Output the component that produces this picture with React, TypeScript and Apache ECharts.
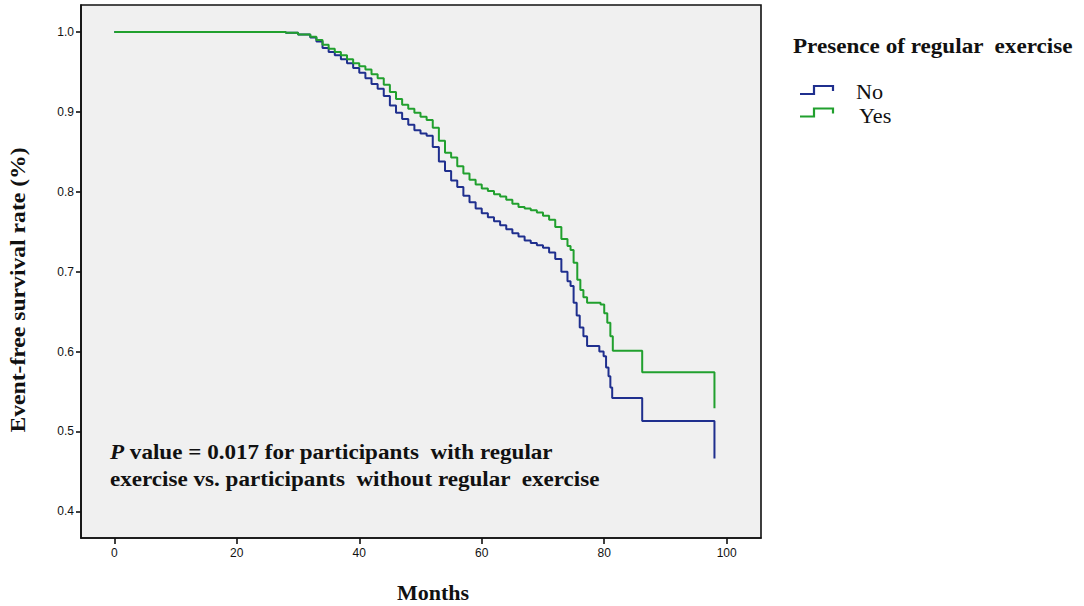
import React, { useEffect, useRef } from "react";
import * as echarts from "echarts";

// Kaplan-Meier: months and event-free survival, "No" regular exercise
const noMonths = [0, 25, 28, 30, 32, 33, 34, 35, 36, 37, 38, 39, 40, 41, 42, 43, 44, 45, 46, 47, 48, 49, 50, 51, 52, 53, 54, 55, 56, 57, 58, 59, 60, 61, 62, 63, 64, 65, 66, 67, 68, 69, 70, 71, 72, 73, 74, 74.5, 75, 75.5, 76, 76.6, 77.2, 79.2, 79.9, 80.3, 80.7, 81.0, 81.3, 86.2, 98, 98];
const noSurv = [1.0, 1.0, 0.999, 0.997, 0.993, 0.988, 0.98, 0.975, 0.971, 0.966, 0.961, 0.955, 0.949, 0.942, 0.935, 0.929, 0.92, 0.908, 0.899, 0.891, 0.884, 0.877, 0.873, 0.87, 0.856, 0.838, 0.826, 0.814, 0.806, 0.795, 0.787, 0.779, 0.773, 0.768, 0.763, 0.758, 0.753, 0.748, 0.744, 0.739, 0.736, 0.733, 0.73, 0.724, 0.716, 0.7, 0.688, 0.682, 0.661, 0.645, 0.63, 0.619, 0.607, 0.6, 0.594, 0.58, 0.569, 0.555, 0.542, 0.513, 0.513, 0.466];

// "Yes" regular exercise
const yesMonths = [0, 25, 28, 30, 32, 33, 34, 35, 36, 37, 38, 39, 40, 41, 42, 43, 44, 45, 46, 47, 48, 49, 50, 51, 52, 53, 54, 55, 56, 57, 58, 59, 60, 61, 62, 63, 64, 65, 66, 67, 68, 69, 70, 71, 72, 73, 74, 74.5, 75, 75.6, 76.1, 76.6, 77.2, 79.4, 80.0, 80.5, 81.0, 81.4, 86.2, 98, 98];
const yesSurv = [1.0, 1.0, 0.999, 0.997, 0.994, 0.99, 0.984, 0.979, 0.975, 0.971, 0.966, 0.961, 0.957, 0.953, 0.947, 0.942, 0.934, 0.925, 0.916, 0.909, 0.904, 0.899, 0.894, 0.89, 0.88, 0.864, 0.849, 0.843, 0.832, 0.823, 0.815, 0.809, 0.804, 0.801, 0.797, 0.794, 0.79, 0.785, 0.781, 0.779, 0.777, 0.774, 0.77, 0.765, 0.756, 0.741, 0.732, 0.727, 0.711, 0.69, 0.677, 0.668, 0.661, 0.659, 0.648, 0.636, 0.619, 0.601, 0.574, 0.574, 0.529];

const xTicks = [0, 20, 40, 60, 80, 100];
const yTicks = [0.4, 0.5, 0.6, 0.7, 0.8, 0.9, 1.0];

const seriesNames = ["No", "Yes"];
const seriesColors = ["#1f2f8e", "#21a02e"];

const SERIF = "'Liberation Serif', 'Times New Roman', serif";
const SANS = "'Liberation Sans', Arial, sans-serif";

export default function App() {
  const ref = useRef<HTMLDivElement>(null);

  useEffect(() => {
    if (!ref.current) return;
    const chart = echarts.init(ref.current, null, { renderer: "svg" });

    const noData = noMonths.map((m, i) => [m, noSurv[i]]);
    const yesData = yesMonths.map((m, i) => [m, yesSurv[i]]);

    const legendIcon = (y: number, color: string) => ({
      type: "polyline",
      shape: {
        points: [
          [800, y + 8],
          [814, y + 8],
          [814, y],
          [833, y],
          [833, y + 5],
        ],
      },
      style: { stroke: color, lineWidth: 2.2, fill: null },
    });

    chart.setOption({
      animation: false,
      backgroundColor: "#ffffff",
      grid: {
        left: 81,
        top: 5,
        width: 680,
        height: 533,
        show: true,
        backgroundColor: "#f0f0f0",
        borderColor: "#111",
        borderWidth: 1.6,
      },
      xAxis: {
        type: "value",
        min: -5.44,
        max: 105.6,
        splitLine: { show: false },
        axisLine: { show: true, onZero: false, lineStyle: { color: "#111", width: 1.6 } },
        axisTick: {
          show: true,
          length: 6,
          lineStyle: { color: "#111", width: 1.6 },
          customValues: xTicks,
        },
        axisLabel: {
          customValues: xTicks,
          color: "#111",
          fontFamily: SANS,
          fontSize: 12,
          margin: 9,
        },
      },
      yAxis: {
        type: "value",
        min: 0.3666,
        max: 1.0338,
        splitLine: { show: false },
        axisLine: { show: true, onZero: false, lineStyle: { color: "#111", width: 1.6 } },
        axisTick: {
          show: true,
          length: 5,
          lineStyle: { color: "#111", width: 1.6 },
          customValues: yTicks,
        },
        axisLabel: {
          customValues: yTicks,
          color: "#111",
          fontFamily: SANS,
          fontSize: 12,
          margin: 7,
          formatter: (v: number) => v.toFixed(1),
        },
      },
      series: [
        {
          name: seriesNames[0],
          type: "line",
          step: "end",
          data: noData,
          symbol: "none",
          lineStyle: { color: seriesColors[0], width: 2 },
          itemStyle: { color: seriesColors[0] },
          z: 3,
        },
        {
          name: seriesNames[1],
          type: "line",
          step: "end",
          data: yesData,
          symbol: "none",
          lineStyle: { color: seriesColors[1], width: 2 },
          itemStyle: { color: seriesColors[1] },
          z: 4,
        },
      ],
      graphic: [
        {
          type: "text",
          x: 18,
          y: 290,
          rotation: Math.PI / 2,
          scaleX: 1.075,
          style: {
            text: "Event-free survival rate (%)",
            fontFamily: SERIF,
            fontWeight: "bold",
            fontSize: 22,
            fill: "#111",
            align: "center",
            verticalAlign: "middle",
          },
        },
        {
          type: "text",
          x: 433,
          y: 592,
          style: {
            text: "Months",
            fontFamily: SERIF,
            fontWeight: "bold",
            fontSize: 22,
            fill: "#111",
            align: "center",
            verticalAlign: "middle",
          },
        },
        {
          type: "text",
          x: 110,
          y: 438,
          z: 10,
          scaleX: 1.1,
          style: {
            text: "{i|P} value = 0.017 for participants  with regular\nexercise vs. participants  without regular  exercise",
            fontFamily: SERIF,
            fontWeight: "bold",
            fontSize: 21,
            lineHeight: 27,
            fill: "#111",
            align: "left",
            verticalAlign: "top",
            rich: {
              i: {
                fontFamily: SERIF,
                fontWeight: "bold",
                fontStyle: "italic",
                fontSize: 21,
                fill: "#111",
              },
            },
          },
        },
        {
          type: "text",
          x: 793,
          y: 47,
          scaleX: 1.157,
          style: {
            text: "Presence of regular  exercise",
            fontFamily: SERIF,
            fontWeight: "bold",
            fontSize: 20,
            fill: "#111",
            align: "left",
            verticalAlign: "middle",
          },
        },
        legendIcon(86, seriesColors[0]),
        legendIcon(108.5, seriesColors[1]),
        {
          type: "text",
          x: 856,
          y: 92,
          scaleX: 1.06,
          style: {
            text: seriesNames[0],
            fontFamily: SERIF,
            fontSize: 21,
            fill: "#111",
            align: "left",
            verticalAlign: "middle",
          },
        },
        {
          type: "text",
          x: 859,
          y: 116,
          scaleX: 1.06,
          style: {
            text: seriesNames[1],
            fontFamily: SERIF,
            fontSize: 21,
            fill: "#111",
            align: "left",
            verticalAlign: "middle",
          },
        },
      ],
    });

    return () => chart.dispose();
  }, []);

  return (
    <div
      ref={ref}
      style={{ position: "fixed", left: 0, top: 0, width: 1084, height: 606 }}
    />
  );
}
